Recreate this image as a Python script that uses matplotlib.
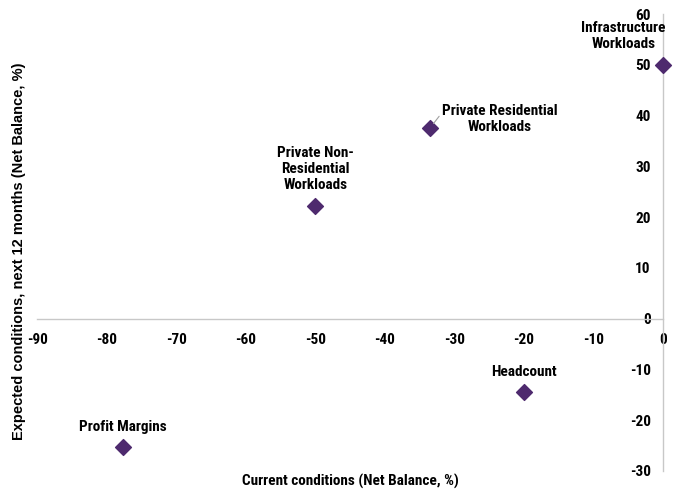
import matplotlib.pyplot as plt
from matplotlib import font_manager

names = ["Infrastructure\nWorkloads", "Private Residential\nWorkloads",
         "Private Non-\nResidential\nWorkloads", "Headcount", "Profit Margins"]
current = [0, -33.5, -50, -20, -77.7]
expected = [50, 37.6, 22.3, -14.4, -25.2]
xticks = list(range(-90, 1, 10))
yticks = list(range(-30, 61, 10))

avail = {f.name for f in font_manager.fontManager.ttflist}
narrow = "Liberation Sans"
for cand in ["Liberation Sans Narrow", "Arial Narrow", "Roboto Condensed", "Archivo Narrow"]:
    if cand in avail:
        narrow = cand
        break
plt.rcParams["font.family"] = [narrow, "Liberation Sans", "DejaVu Sans"]
plt.rcParams["font.weight"] = "bold"
plt.rcParams["axes.unicode_minus"] = False

fig = plt.figure(figsize=(6.74, 4.91), dpi=100)
ax = fig.add_axes([0.055, 0.041, 0.929, 0.930])
ax.scatter(current, expected, marker="D", s=65, color="#4E2A6E", zorder=3, clip_on=False)

ax.set_xlim(-90, 0)
ax.set_ylim(-30, 60)
ax.spines["left"].set_position(("data", 0))
ax.spines["bottom"].set_position(("data", 0))
ax.spines["top"].set_visible(False)
ax.spines["right"].set_visible(False)
for s in ("left", "bottom"):
    ax.spines[s].set_color("#c8c8c8")
    ax.spines[s].set_linewidth(1)
ax.set_xticks(xticks)
ax.set_yticks(yticks)
ax.tick_params(axis="x", length=0, pad=10, labelsize=11)
ax.tick_params(axis="y", length=0, pad=9, labelsize=11)
for lab in ax.get_xticklabels() + ax.get_yticklabels():
    lab.set_fontweight("bold")

ax.set_xlabel("Current conditions (Net Balance, %)", fontsize=11, fontweight="bold",
              va="center")
ax.xaxis.set_label_coords(0.5, -0.024)
ax.set_ylabel("Expected conditions, next 12 months (Net Balance, %)", fontsize=10.5,
              fontweight="bold", family=["Liberation Sans", "DejaVu Sans"], va="center")
ax.yaxis.set_label_coords(-0.029, 0.48)

kw = dict(fontsize=11, fontweight="bold", ha="center", va="center", linespacing=1.2)
ax.annotate(names[0], (current[0], expected[0]), xytext=(-5.7, 55.7), **kw)
ax.annotate(names[1], (current[1], expected[1]), xytext=(-23.5, 39.4),
            arrowprops=dict(arrowstyle="-", color="#a0a0a0", lw=0.8,
                            shrinkA=0, shrinkB=4, relpos=(0, 0.7)),
            **kw)
ax.annotate(names[2], (current[2], expected[2]), xytext=(-50, 29.5), **kw)
ax.annotate(names[3], (current[3], expected[3]), xytext=(-20, -10.6), **kw)
ax.annotate(names[4], (current[4], expected[4]), xytext=(-77.6, -21.4), **kw)

fig.savefig("out.png", dpi=100)
